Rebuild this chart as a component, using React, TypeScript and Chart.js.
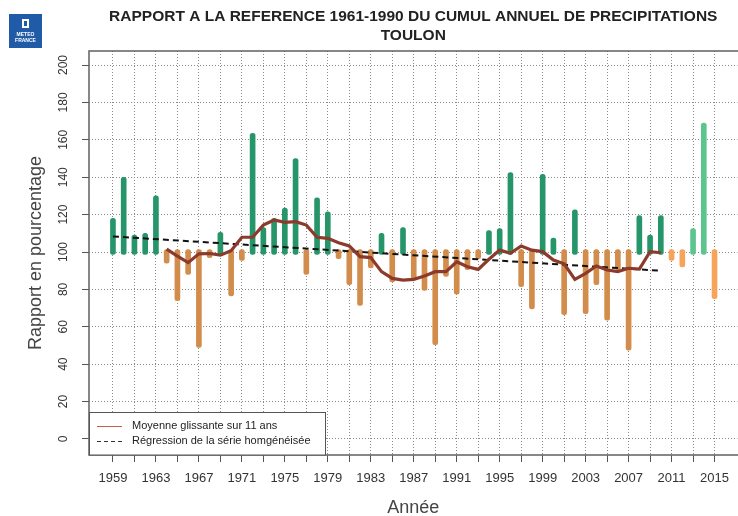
import React, { useEffect, useRef } from 'react';
import { Chart, registerables } from 'chart.js';

Chart.register(...registerables);

const FONT = '"Liberation Sans", Arial, sans-serif';

const years = [
  1959, 1960, 1961, 1962, 1963, 1964, 1965, 1966, 1967, 1968,
  1969, 1970, 1971, 1972, 1973, 1974, 1975, 1976, 1977, 1978,
  1979, 1980, 1981, 1982, 1983, 1984, 1985, 1986, 1987, 1988,
  1989, 1990, 1991, 1992, 1993, 1994, 1995, 1996, 1997, 1998,
  1999, 2000, 2001, 2002, 2003, 2004, 2005, 2006, 2007, 2008,
  2009, 2010, 2011, 2012, 2013, 2014, 2015,
];

const ratioValues = [
  118, 140, 109, 110, 130, 94, 74, 88, 49, 97,
  110.5, 76.5, 95.5, 163.5, 113, 118, 123.5, 150, 88, 129,
  121.5, 96.5, 82.5, 71.5, 91.5, 110, 84, 113, 85.5, 79.5,
  50.5, 87, 77.5, 90.5, 96.5, 111.5, 112.5, 142.5, 81.5, 69.5,
  141.5, 107.5, 66.5, 122.5, 67, 82.5, 63.5, 90.5, 47.5, 119.5,
  109, 119.5, 95.5, 92, 112.5, 169, 75,
];

const movingAvgYears = [
  1964, 1965, 1966, 1967, 1968, 1969, 1970, 1971, 1972, 1973,
  1974, 1975, 1976, 1977, 1978, 1979, 1980, 1981, 1982, 1983,
  1984, 1985, 1986, 1987, 1988, 1989, 1990, 1991, 1992, 1993,
  1994, 1995, 1996, 1997, 1998, 1999, 2000, 2001, 2002, 2003,
  2004, 2005, 2006, 2007, 2008, 2009, 2010,
];

const movingAvgValues = [
  101.5, 97.8, 94.3, 99, 99.2, 98.3, 100.7, 107.9, 107.9, 114.4,
  117.1, 115.9, 116.2, 114.4, 107.9, 107.3, 105, 103.2, 97.5, 97,
  89.5, 85.9, 85, 85.4, 87.2, 89.5, 89.5, 94.8, 92.1, 90.7,
  96.1, 101, 99.3, 103.2, 101, 100.2, 95.7, 93.7, 85.4, 88.6,
  92.5, 90.4, 89.5, 91.3, 90.9, 100.2, 99.6,
];

const regressionYears = [1959, 2010];
const regressionValues = [108.3, 90.0];

const homogenizedEnd = 2010;

const xTickYears = [
  1959, 1961, 1963, 1965, 1967, 1969, 1971, 1973, 1975, 1977,
  1979, 1981, 1983, 1985, 1987, 1989, 1991, 1993, 1995, 1997,
  1999, 2001, 2003, 2005, 2007, 2009, 2011, 2013, 2015,
];
const xLabelYears = [
  1959, 1963, 1967, 1971, 1975, 1979, 1983, 1987, 1991, 1995,
  1999, 2003, 2007, 2011, 2015,
];
const yTicks = [0, 20, 40, 60, 80, 100, 120, 140, 160, 180, 200];

const titleLines = [
  'RAPPORT A LA REFERENCE 1961-1990 DU CUMUL ANNUEL DE PRECIPITATIONS',
  'TOULON',
];
const xTitle = 'Année';
const yTitle = 'Rapport en pourcentage';
const legendLabels = ['Moyenne glissante sur 11 ans', 'Régression de la série homgénéisée'];

const X_MIN = 1956.77;
const X_MAX = 2017.14;
const Y_MIN = -8.56;
const Y_MAX = 207.5;
const CAP = 1.3;

const GREEN = '#26966a';
const ORANGE = '#d28c4b';
const LIGHT_GREEN = '#5cc58f';
const LIGHT_ORANGE = '#f7a45b';

const decorPlugin = {
  id: 'decor',
  afterDraw(chart: any) {
    const { ctx, chartArea, scales } = chart;
    const ys = scales.y;
    ctx.save();

    // plot box
    ctx.strokeStyle = '#6a6a6a';
    ctx.lineWidth = 1.6;
    ctx.strokeRect(chartArea.left, chartArea.top, chartArea.right - chartArea.left + 2, chartArea.bottom - chartArea.top);

    // y tick labels (rotated)
    ctx.fillStyle = '#333';
    ctx.font = `12px ${FONT}`;
    ctx.textAlign = 'center';
    ctx.textBaseline = 'middle';
    yTicks.forEach((v) => {
      const y = ys.getPixelForValue(v);
      ctx.save();
      ctx.translate(chartArea.left - 25, y);
      ctx.rotate(-Math.PI / 2);
      ctx.fillText(String(v), 0, 0);
      ctx.restore();
    });

    // y title
    ctx.fillStyle = '#444';
    ctx.font = `18px ${FONT}`;
    ctx.save();
    ctx.translate(36, (chartArea.top + chartArea.bottom) / 2);
    ctx.rotate(-Math.PI / 2);
    ctx.fillText(yTitle, 0, 0);
    ctx.restore();

    // x title
    ctx.fillText(xTitle, (chartArea.left + chartArea.right) / 2, 508);

    // main title
    ctx.fillStyle = '#222';
    ctx.font = `bold 15.5px ${FONT}`;
    const cx = (chartArea.left + chartArea.right) / 2;
    ctx.fillText(titleLines[0], cx, 17);
    ctx.fillText(titleLines[1], cx, 36);

    // legend
    const lx = chartArea.left;
    const lw = 236;
    const lt = 412.5;
    const lb = chartArea.bottom;
    ctx.fillStyle = '#fff';
    ctx.fillRect(lx, lt, lw, lb - lt);
    ctx.strokeStyle = '#555';
    ctx.lineWidth = 1;
    ctx.strokeRect(lx + 0.5, lt, lw, lb - lt);
    ctx.strokeStyle = '#c0604f';
    ctx.beginPath();
    ctx.moveTo(lx + 8, 426.5);
    ctx.lineTo(lx + 33, 426.5);
    ctx.stroke();
    ctx.strokeStyle = '#333';
    ctx.setLineDash([4, 3]);
    ctx.beginPath();
    ctx.moveTo(lx + 8, 441.5);
    ctx.lineTo(lx + 33, 441.5);
    ctx.stroke();
    ctx.setLineDash([]);
    ctx.fillStyle = '#222';
    ctx.font = `11px ${FONT}`;
    ctx.textAlign = 'left';
    ctx.fillText(legendLabels[0], lx + 43, 426);
    ctx.fillText(legendLabels[1], lx + 43, 441);

    // logo
    ctx.fillStyle = '#1f5ba6';
    ctx.fillRect(9, 14, 33, 34);
    ctx.fillStyle = '#fff';
    ctx.fillRect(22, 19, 7, 9);
    ctx.fillStyle = '#1f5ba6';
    ctx.fillRect(24, 21, 3, 5);
    ctx.fillStyle = '#fff';
    ctx.font = `bold 5px ${FONT}`;
    ctx.textAlign = 'center';
    ctx.fillText('METEO', 25.5, 35);
    ctx.fillText('FRANCE', 25.5, 41);

    ctx.restore();
  },
};

export default function App() {
  const ref = useRef<HTMLCanvasElement | null>(null);

  useEffect(() => {
    if (!ref.current) return;
    const barColors = years.map((yr, i) => {
      const up = ratioValues[i] >= 100;
      if (yr > homogenizedEnd) return up ? LIGHT_GREEN : LIGHT_ORANGE;
      return up ? GREEN : ORANGE;
    });
    const chart = new Chart(ref.current, {
      type: 'bar',
      data: {
        datasets: [
          {
            type: 'line',
            label: legendLabels[0],
            data: movingAvgYears.map((x, i) => ({ x, y: movingAvgValues[i] })),
            borderColor: '#8b3a2b',
            borderWidth: 3.2,
            pointRadius: 0,
            tension: 0,
            order: 1,
          } as any,
          {
            type: 'line',
            label: legendLabels[1],
            data: regressionYears.map((x, i) => ({ x, y: regressionValues[i] })),
            borderColor: '#111',
            borderWidth: 2,
            borderDash: [6, 4],
            pointRadius: 0,
            order: 2,
          } as any,
          {
            type: 'bar',
            label: 'ratio',
            data: years.map((x, i) => {
              const v = ratioValues[i];
              return { x, y: [v >= 100 ? 100 - CAP : 100 + CAP, v] };
            }),
            backgroundColor: barColors,
            barThickness: 5,
            borderRadius: 3,
            borderSkipped: false,
            order: 3,
          } as any,
        ],
      },
      options: {
        animation: false,
        responsive: false,
        layout: { padding: { top: 51, right: 0, bottom: 0, left: 0 } },
        plugins: {
          legend: { display: false },
          tooltip: { enabled: false },
          title: { display: false },
        },
        scales: {
          x: {
            type: 'linear',
            offset: false,
            min: X_MIN,
            max: X_MAX,
            bounds: 'data',
            afterBuildTicks: (s: any) => {
              s.ticks = xTickYears.map((v) => ({ value: v }));
            },
            afterFit: (s: any) => {
              s.height = 61;
            },
            ticks: {
              autoSkip: false,
              maxRotation: 0,
              minRotation: 0,
              padding: 9,
              color: '#333',
              font: { family: FONT, size: 13 },
              callback: (v: any) => (xLabelYears.includes(Number(v)) ? String(v) : ''),
            },
            grid: {
              offset: false,
              color: '#8a8a8a',
              lineWidth: 1,
              tickLength: 7,
              tickColor: '#555',
              tickBorderDash: [],
            },
            border: { display: false, dash: [1, 2] },
          },
          y: {
            type: 'linear',
            min: Y_MIN,
            max: Y_MAX,
            bounds: 'data',
            afterBuildTicks: (s: any) => {
              s.ticks = yTicks.map((v) => ({ value: v }));
            },
            afterFit: (s: any) => {
              s.width = 89;
            },
            ticks: { display: false, autoSkip: false },
            grid: {
              color: '#8a8a8a',
              lineWidth: 1,
              tickLength: 7,
              tickColor: '#555',
              tickBorderDash: [],
            },
            border: { display: false, dash: [1, 2] },
          },
        },
      } as any,
      plugins: [decorPlugin],
    });
    return () => chart.destroy();
  }, []);

  return (
    <div style={{ position: 'absolute', left: 0, top: 0, width: 738, height: 516, background: '#fff' }}>
      <canvas ref={ref} width={738} height={516} style={{ width: 738, height: 516, display: 'block' }} />
    </div>
  );
}
